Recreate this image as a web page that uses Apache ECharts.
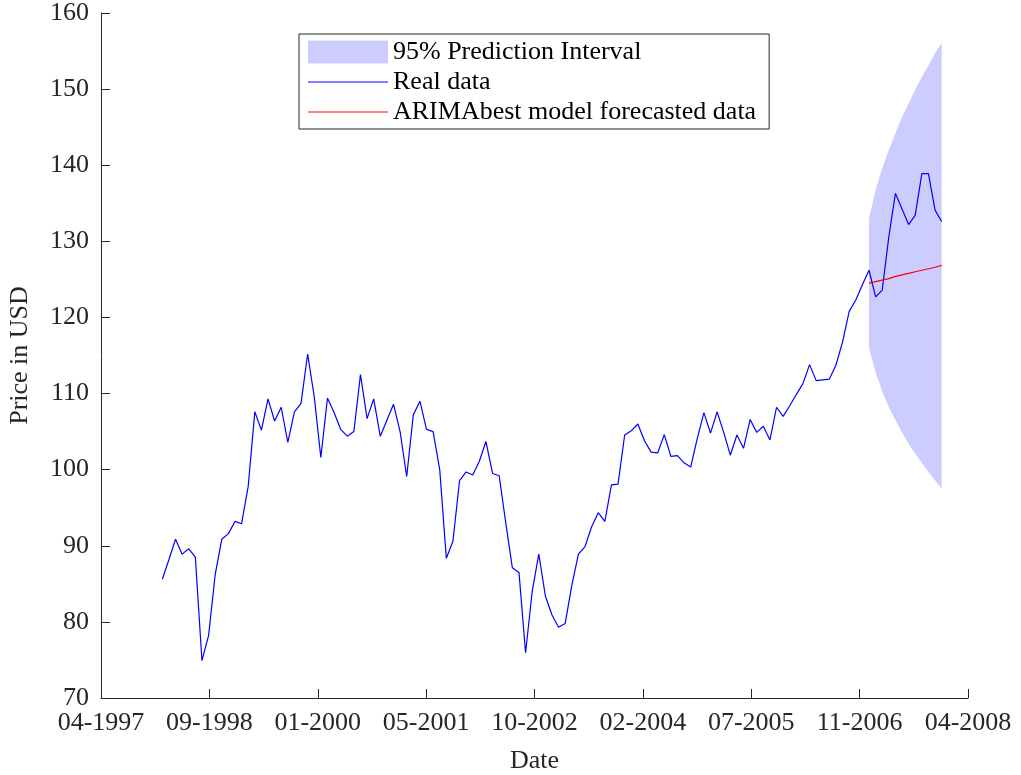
<!DOCTYPE html>
<html>
<head>
<meta charset="utf-8">
<title>Price forecast</title>
<script src="https://cdn.jsdelivr.net/npm/echarts@6/dist/echarts.min.js"></script>
<style>
  html, body { margin: 0; padding: 0; background: #ffffff; }
  #chart { width: 1021px; height: 775px; }
</style>
</head>
<body>
<div id="chart"></div>
<script>
// Date tick labels along the x axis (evenly spaced, 500 days apart)
const xTickLabels = ['04-1997', '09-1998', '01-2000', '05-2001', '10-2002',
                     '02-2004', '07-2005', '11-2006', '04-2008'];
const tickStepDays = 500;

// Monthly observations, Jan 1998 .. Nov 2007
const firstObsDay = 283;     // day of first observation, counted from the axis origin
const daysPerMonth = 30.47;
const realPrice = [
  85.6, 88.2, 90.85, 88.9, 89.6, 88.5, 74.9, 78.2, 86.2, 90.85,
  91.6, 93.2, 92.9, 97.8, 107.6, 105.2, 109.3, 106.4, 108.2, 103.6,
  107.6, 108.7, 115.2, 109.6, 101.6, 109.4, 107.5, 105.3, 104.4, 105.0,
  112.5, 106.7, 109.3, 104.4, 106.5, 108.6, 105.0, 99.1, 107.2, 109.0,
  105.3, 105.0, 100.0, 88.35, 90.6, 98.55, 99.7, 99.3, 101.1, 103.7,
  99.5, 99.2, 93.0, 87.1, 86.5, 75.95, 84.0, 88.9, 83.4, 80.9,
  79.3, 79.8, 84.8, 88.9, 89.9, 92.5, 94.35, 93.2, 98.0, 98.1,
  104.55, 105.1, 106.0, 103.8, 102.3, 102.2, 104.6, 101.75, 101.85, 100.9,
  100.35, 104.1, 107.5, 104.8, 107.6, 104.9, 101.9, 104.55, 102.8, 106.6,
  104.9, 105.7, 103.9, 108.2, 107.0, 108.4, 109.9, 111.3, 113.8, 111.7,
  111.8, 111.9, 113.75, 116.8, 120.8, 122.3, 124.3, 126.2, 122.7, 123.6,
  130.6, 136.3, 134.25, 132.2, 133.45, 138.9, 138.9, 134.1, 132.6
];

// 12-month forecast, Dec 2006 .. Nov 2007
const forecastStartIndex = 107;
const forecastPrice = [124.5, 124.7, 124.9, 125.1, 125.4, 125.6, 125.8, 126.0, 126.2, 126.4, 126.6, 126.85];
const upper95 = [133.0, 136.7, 139.6, 142.0, 144.2, 146.3, 148.1, 149.9, 151.6, 153.1, 154.7, 156.1];
const lower95 = [116.0, 112.8, 110.3, 108.2, 106.5, 104.9, 103.4, 102.1, 100.9, 99.7, 98.6, 97.5];

const seriesNames = ['95% Prediction Interval', 'Real data', 'ARIMAbest model forecasted data'];

const dayOf = i => firstObsDay + i * daysPerMonth;
const realData = realPrice.map((v, i) => [dayOf(i), v]);
const fcDay = k => dayOf(forecastStartIndex + k);
const forecastData = forecastPrice.map((v, k) => [fcDay(k), v]);
const bandData = upper95.map((v, k) => [fcDay(k), lower95[k], v]);

const FONT = '"Liberation Serif", "DejaVu Serif", serif';
const INK = '#262626';
const BAND = '#ccccff';
// thin horizontal stroke centred in the 80x23 legend key
const LINE_KEY = 'path://M0,0 M0,10.9 L80,10.9 L80,12.1 L0,12.1 Z M80,23';

// filled region between the lower and upper bounds
function renderBand(params, api) {
  if (params.dataIndex !== 0) return null;
  const top = [], bottom = [];
  for (let k = 0; k < bandData.length; k++) {
    top.push(api.coord([bandData[k][0], bandData[k][2]]));
    bottom.push(api.coord([bandData[k][0], bandData[k][1]]));
  }
  return {
    type: 'polygon',
    shape: { points: top.concat(bottom.reverse()) },
    style: { fill: BAND, stroke: null }
  };
}

const chart = echarts.init(document.getElementById('chart'), null, { renderer: 'canvas' });
chart.setOption({
  animation: false,
  backgroundColor: '#ffffff',
  textStyle: { fontFamily: FONT },
  grid: { left: 101, right: 53, top: 13, bottom: 77, containLabel: false, outerBoundsMode: 'none' },
  legend: {
    orient: 'vertical',
    left: 299,
    top: 34,
    padding: [3, 13, 2, 9],
    itemGap: 0,
    itemWidth: 80,
    itemHeight: 23,
    backgroundColor: '#ffffff',
    borderColor: INK,
    borderWidth: 1,
    borderRadius: 0,
    selectedMode: false,
    textStyle: { fontFamily: FONT, fontSize: 26, color: '#000000', lineHeight: 30 },
    data: [
      { name: seriesNames[0], icon: 'rect', itemStyle: { color: BAND, borderWidth: 0 } },
      { name: seriesNames[1], icon: LINE_KEY, itemStyle: { color: '#0000ff', borderWidth: 0 } },
      { name: seriesNames[2], icon: LINE_KEY, itemStyle: { color: '#ff0000', borderWidth: 0 } }
    ]
  },
  xAxis: {
    type: 'value',
    min: 0,
    max: tickStepDays * (xTickLabels.length - 1),
    interval: tickStepDays,
    name: 'Date',
    nameLocation: 'middle',
    nameGap: 50,
    nameTextStyle: { fontFamily: FONT, fontSize: 26, color: INK },
    axisLine: { show: true, lineStyle: { color: INK, width: 1 } },
    axisTick: { show: true, inside: true, length: 9, lineStyle: { color: INK, width: 1 } },
    axisLabel: {
      margin: 12,
      fontFamily: FONT, fontSize: 26, color: INK,
      formatter: v => xTickLabels[Math.round(v / tickStepDays)] || ''
    },
    splitLine: { show: false }
  },
  yAxis: {
    type: 'value',
    min: 70,
    max: 160,
    interval: 10,
    name: 'Price in USD',
    nameLocation: 'middle',
    nameGap: 68,
    nameTextStyle: { fontFamily: FONT, fontSize: 26, color: INK },
    axisLine: { show: true, lineStyle: { color: INK, width: 1 } },
    axisTick: { show: true, inside: true, length: 9, lineStyle: { color: INK, width: 1 } },
    axisLabel: { margin: 12, fontFamily: FONT, fontSize: 26, color: INK },
    splitLine: { show: false }
  },
  series: [
    {
      name: seriesNames[0],
      type: 'custom',
      renderItem: renderBand,
      data: bandData,
      encode: { x: 0, y: [1, 2] },
      itemStyle: { color: BAND },
      silent: true,
      z: 1
    },
    {
      name: seriesNames[1],
      type: 'line',
      data: realData,
      symbol: 'none',
      itemStyle: { color: '#0000ff' },
      lineStyle: { color: '#0000ff', width: 1.2 },
      z: 2
    },
    {
      name: seriesNames[2],
      type: 'line',
      data: forecastData,
      symbol: 'none',
      itemStyle: { color: '#ff0000' },
      lineStyle: { color: '#ff0000', width: 1.2 },
      z: 3
    }
  ]
});
</script>
</body>
</html>
